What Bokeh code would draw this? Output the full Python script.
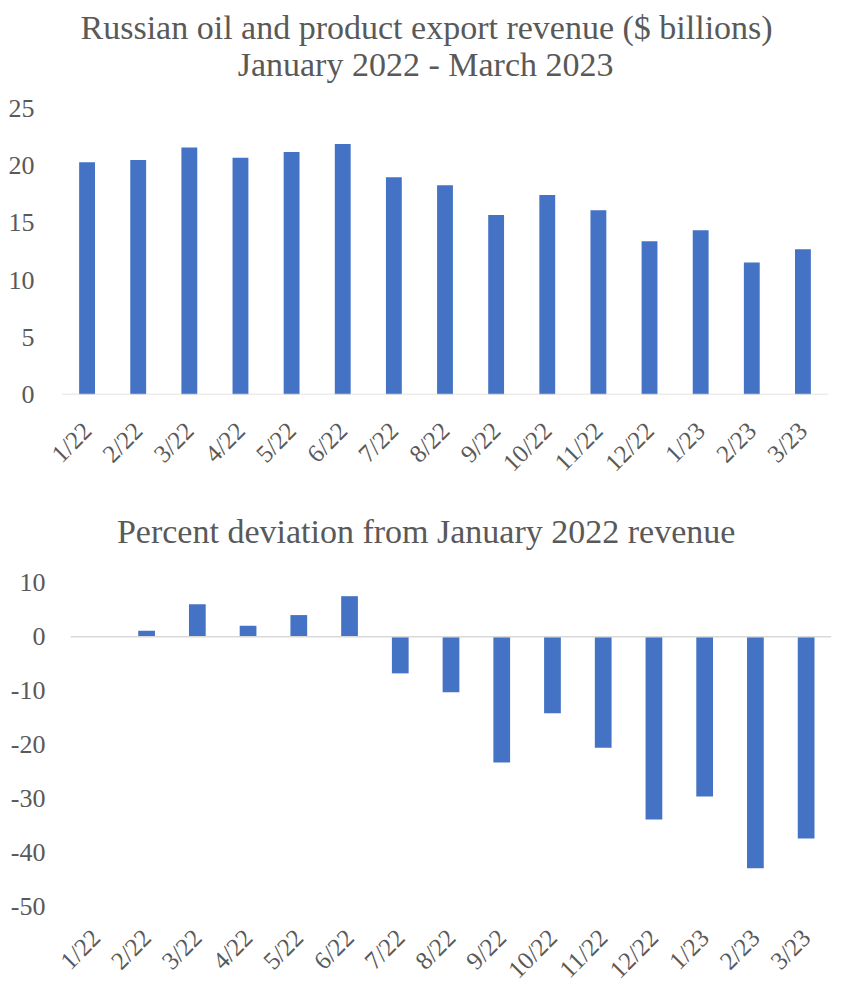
import math
from bokeh.plotting import figure
from bokeh.models import Range1d, FactorRange, FixedTicker, Span
from bokeh.core.properties import value
from bokeh.embed import file_html
from bokeh.resources import INLINE

months = ["1/22", "2/22", "3/22", "4/22", "5/22", "6/22", "7/22", "8/22",
          "9/22", "10/22", "11/22", "12/22", "1/23", "2/23", "3/23"]
revenue = [20.3, 20.5, 21.6, 20.7, 21.2, 21.9, 19.0, 18.3, 15.7, 17.45, 16.1,
           13.4, 14.35, 11.55, 12.7]
deviation = [0.0, 1.1, 6.0, 2.0, 4.0, 7.5, -6.8, -10.3, -23.3, -14.2, -20.6,
             -33.9, -29.6, -42.9, -37.4]
top_ticks = [0, 5, 10, 15, 20, 25]
bottom_ticks = [-50, -40, -30, -20, -10, 0, 10]
top_title = ["Russian oil and product export revenue ($ billions)", "January 2022 - March 2023"]
bottom_title = ["Percent deviation from January 2022 revenue"]

FONT = "Liberation Serif"
TXT = "#595959"
BAR = "#4472C4"
AXIS = "#D9D9D9"


def style(p, ticks, ystand, xstand):
    p.xgrid.grid_line_color = None
    p.ygrid.grid_line_color = None
    p.outline_line_color = None
    p.yaxis.ticker = FixedTicker(ticks=ticks)
    p.yaxis.major_label_overrides = {t: str(t) for t in ticks}
    for axes in (p.xaxis, p.yaxis):
        axes.axis_line_color = None
        axes.major_tick_line_color = None
        axes.minor_tick_line_color = None
        axes.major_tick_out = 0
        axes.major_tick_in = 0
        axes.minor_tick_out = 0
        axes.major_label_text_font = FONT
        axes.major_label_text_color = TXT
    p.yaxis.major_label_text_font_size = "26px"
    p.xaxis.major_label_text_font_size = "25px"
    p.yaxis.major_label_standoff = ystand
    p.xaxis.major_label_standoff = xstand
    p.xaxis.major_label_orientation = math.pi / 4
    p.add_layout(Span(location=0, dimension="width", line_color=AXIS, line_width=1.5))


def add_title(p, lines, xs, ys):
    p.text(x=xs, y=ys, text=lines, text_font=value(FONT), text_font_size="34px",
           text_color=TXT, text_align="center", text_baseline="alphabetic")


# top chart: frame extends above the value axis to hold the two-line title
p1 = figure(x_range=FactorRange(factors=months, range_padding=0), y_range=Range1d(0, 33.57),
            frame_width=767, frame_height=384, output_backend="svg", toolbar_location=None,
            min_border_left=61, min_border_right=14, min_border_top=10, min_border_bottom=110)
p1.vbar(x=months, top=revenue, width=0.31, fill_color=BAR, line_color=None)
style(p1, top_ticks, 27, 32)
add_title(p1, top_title, [7.14, 7.12], [32.11, 28.88])

p2 = figure(x_range=FactorRange(factors=months, range_padding=0), y_range=Range1d(-50, 24.49),
            frame_width=761, frame_height=402, output_backend="svg", toolbar_location=None,
            min_border_left=70, min_border_right=11, min_border_top=0, min_border_bottom=75)
p2.vbar(x=months, top=deviation, width=0.33, fill_color=BAR, line_color=None)
style(p2, bottom_ticks, 25, 27)
add_title(p2, bottom_title, [7.01], [19.4])

# two independent roots, stacked, so the frames are not forced into alignment
open("out.html", "w").write(file_html([p1, p2], INLINE))
